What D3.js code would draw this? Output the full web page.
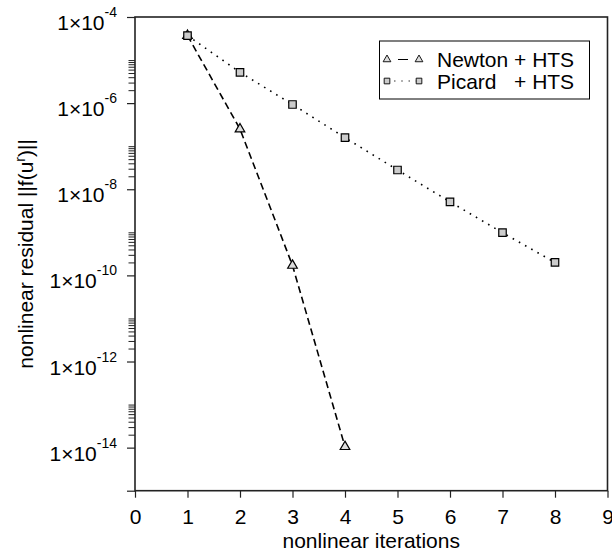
<!DOCTYPE html>
<html>
<head>
<meta charset="utf-8">
<script src="https://cdn.jsdelivr.net/npm/d3@7"></script>
<style>
  html, body { margin: 0; padding: 0; background: #fff; }
  svg { display: block; font-family: "Liberation Sans", Arial, sans-serif; }
</style>
</head>
<body>
<div id="chart"></div>
<script>
// data
const newtonIter = [1, 2, 3, 4];
const newtonRes = [3.7e-5, 2.5e-7, 1.7e-10, 1.05e-14];
const picardIter = [1, 2, 3, 4, 5, 6, 7, 8];
const picardRes = [3.7e-5, 5.2e-6, 9.3e-7, 1.58e-7, 2.8e-8, 5.1e-9, 9.8e-10, 2.0e-10];

const xTicks = [0, 1, 2, 3, 4, 5, 6, 7, 8, 9];
const yMajorExp = [-4, -6, -8, -10, -12, -14];
const legendNames = ["Newton", "Picard"];

const width = 612, height = 554;
const margin = { top: 17, right: 4.5, bottom: 63.3, left: 135 };

const svg = d3.select("#chart").append("svg")
  .attr("width", width)
  .attr("height", height);

const x = d3.scaleLinear()
  .domain([0, 9])
  .range([margin.left, width - margin.right]);

const y = d3.scaleLog()
  .domain([1e-15, 1e-4])
  .range([height - margin.bottom, margin.top]);

// minor ticks: 2..9 x 10^e for even e, plus the odd decades
let minorTicks = [];
yMajorExp.forEach(e => {
  if (e >= -4) return;
  for (let k = 2; k <= 10; k++) minorTicks.push(k * Math.pow(10, e));
});

const axisColor = "#222";

// y minor ticks
svg.append("g")
  .attr("transform", `translate(${margin.left},0)`)
  .call(d3.axisLeft(y).tickValues(minorTicks).tickSize(6.5).tickFormat(""))
  .call(g => g.select(".domain").remove())
  .call(g => g.selectAll("line").attr("stroke", axisColor).attr("stroke-width", 1));

// y major ticks (plus one at the bottom edge)
let majorVals = yMajorExp.map(e => Math.pow(10, e)).concat([1e-15]);
svg.append("g")
  .attr("transform", `translate(${margin.left},0)`)
  .call(d3.axisLeft(y).tickValues(majorVals).tickSize(8).tickFormat(""))
  .call(g => g.select(".domain").remove())
  .call(g => g.selectAll("line").attr("stroke", axisColor).attr("stroke-width", 1.2));

// y labels 1x10^e
let yLab = svg.append("g");
yMajorExp.forEach(e => {
  let yy = y(Math.pow(10, e));
  let t = yLab.append("text")
    .attr("x", 117)
    .attr("y", yy + 13)
    .attr("text-anchor", "end")
    .style("font-size", "21px")
    .attr("fill", "#000");
  t.append("tspan").text("1\u00d710");
  t.append("tspan")
    .attr("dy", -13)
    .style("font-size", "14px")
    .text(String(e));
});

// x axis
svg.append("g")
  .attr("transform", `translate(0,${height - margin.bottom})`)
  .call(d3.axisBottom(x).tickValues(xTicks).tickSize(7).tickPadding(11).tickFormat(d3.format("d")))
  .call(g => g.select(".domain").remove())
  .call(g => g.selectAll("line").attr("stroke", axisColor).attr("stroke-width", 1.2))
  .call(g => g.selectAll("text")
    .style("font-size", "21px")
    .style("font-family", "'Liberation Sans', Arial, sans-serif")
    .attr("fill", "#000"));

// frame
svg.append("rect")
  .attr("x", margin.left)
  .attr("y", margin.top)
  .attr("width", width - margin.right - margin.left)
  .attr("height", height - margin.bottom - margin.top)
  .attr("fill", "none")
  .attr("stroke", axisColor)
  .attr("stroke-width", 1.6);

// titles
svg.append("text")
  .attr("x", (margin.left + width - margin.right) / 2)
  .attr("y", 548)
  .attr("text-anchor", "middle")
  .style("font-size", "21px")
  .text("nonlinear iterations");

let yt = svg.append("text")
  .attr("transform", `translate(33,${(margin.top + height - margin.bottom) / 2}) rotate(-90)`)
  .attr("text-anchor", "middle")
  .style("font-size", "21px");
yt.append("tspan").text("nonlinear residual ||f(u");
yt.append("tspan").attr("dy", -8).style("font-size", "14px").text("r");
yt.append("tspan").attr("dy", 8).text(")||");

// lines
const line = d3.line().x(d => x(d[0])).y(d => y(d[1]));
const newtonPts = newtonIter.map((d, i) => [d, newtonRes[i]]);
const picardPts = picardIter.map((d, i) => [d, picardRes[i]]);

svg.append("path")
  .datum(newtonPts)
  .attr("d", line)
  .attr("fill", "none")
  .attr("stroke", "#000")
  .attr("stroke-width", 1.6)
  .attr("stroke-dasharray", "7,4");

svg.append("path")
  .datum(picardPts)
  .attr("d", line)
  .attr("fill", "none")
  .attr("stroke", "#000")
  .attr("stroke-width", 1.6)
  .attr("stroke-dasharray", "1.6,5.5");

const triSym = d3.symbol().type(d3.symbolTriangle).size(40);
const sqSym = d3.symbol().type(d3.symbolSquare).size(56);

svg.selectAll("path.tri")
  .data(newtonPts)
  .enter().append("path")
  .attr("class", "tri")
  .attr("d", triSym)
  .attr("transform", d => `translate(${x(d[0])},${y(d[1])})`)
  .attr("fill", "#ddd")
  .attr("stroke", "#000")
  .attr("stroke-width", 1.2);

svg.selectAll("path.sq")
  .data(picardPts)
  .enter().append("path")
  .attr("class", "sq")
  .attr("d", sqSym)
  .attr("transform", d => `translate(${x(d[0])},${y(d[1])})`)
  .attr("fill", "#ccc")
  .attr("stroke", "#000")
  .attr("stroke-width", 1.2);

// legend
const leg = svg.append("g");
leg.append("rect")
  .attr("x", 379.5).attr("y", 41)
  .attr("width", 210).attr("height", 58)
  .attr("fill", "#fff")
  .attr("stroke", "#000")
  .attr("stroke-width", 1);

const rowsY = [59.5, 81];
const symX = [387, 419];
// newton sample
leg.append("line")
  .attr("x1", symX[0]).attr("x2", symX[1])
  .attr("y1", rowsY[0]).attr("y2", rowsY[0])
  .attr("stroke", "#000").attr("stroke-width", 1.2)
  .attr("stroke-dasharray", "0,11,10,11");
symX.forEach(sx => leg.append("path")
  .attr("d", d3.symbol().type(d3.symbolTriangle).size(26))
  .attr("transform", `translate(${sx},${rowsY[0]})`)
  .attr("fill", "#ddd").attr("stroke", "#000").attr("stroke-width", 0.9));
// picard sample
leg.append("line")
  .attr("x1", symX[0]).attr("x2", symX[1])
  .attr("y1", rowsY[1]).attr("y2", rowsY[1])
  .attr("stroke", "#000").attr("stroke-width", 1.2)
  .attr("stroke-dasharray", "1.2,6");
symX.forEach(sx => leg.append("path")
  .attr("d", d3.symbol().type(d3.symbolSquare).size(32))
  .attr("transform", `translate(${sx},${rowsY[1]})`)
  .attr("fill", "#ccc").attr("stroke", "#000").attr("stroke-width", 0.9));

let nameW = 0;
legendNames.forEach((n, i) => {
  let t = leg.append("text")
    .attr("x", 437).attr("y", rowsY[i] + 7.5)
    .style("font-size", "21px")
    .text(n);
  nameW = Math.max(nameW, t.node().getComputedTextLength());
});
const gap = 0.278 * 21;
legendNames.forEach((n, i) => {
  leg.append("text")
    .attr("x", 437 + nameW + gap).attr("y", rowsY[i] + 7.5)
    .style("font-size", "21px")
    .text("+ HTS");
});
</script>
</body>
</html>
